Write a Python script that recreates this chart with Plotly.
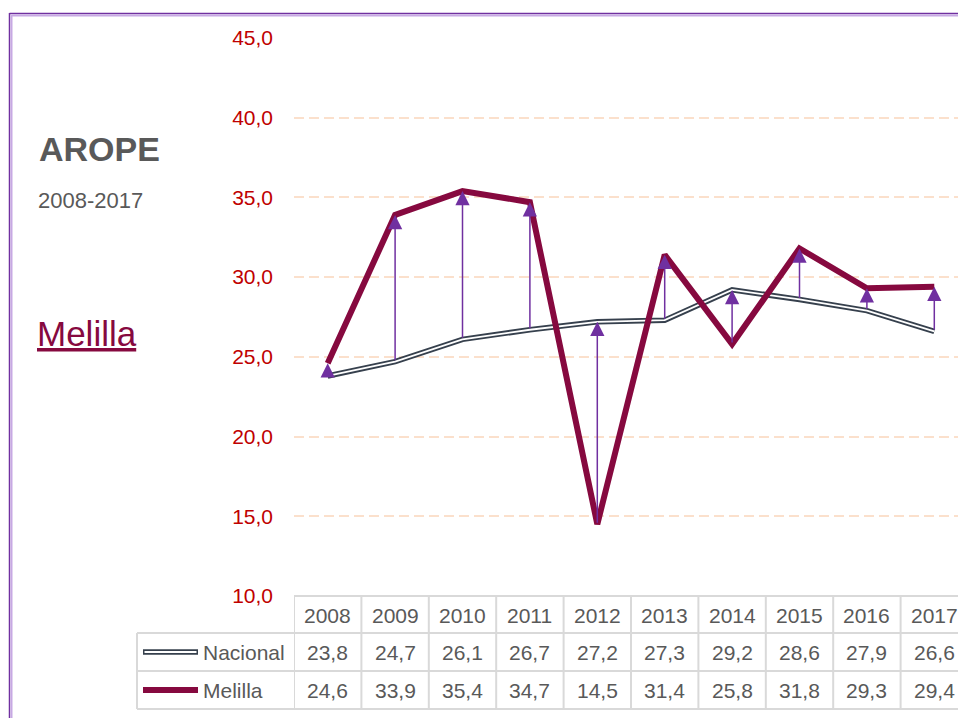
import plotly.graph_objects as go

# ---------------- data ----------------
years = [2008, 2009, 2010, 2011, 2012, 2013, 2014, 2015, 2016, 2017]
nacional = [23.8, 24.7, 26.1, 26.7, 27.2, 27.3, 29.2, 28.6, 27.9, 26.6]
melilla = [24.6, 33.9, 35.4, 34.7, 14.5, 31.4, 25.8, 31.8, 29.3, 29.4]
y_ticks = [10, 15, 20, 25, 30, 35, 40, 45]
series_names = ["Nacional", "Melilla"]
title_text = "AROPE"
subtitle_text = "2008-2017"
region_text = "Melilla"

# ---------------- layout helpers ----------------
W, H = 958, 718
def px(x):
    return x / W
def py(y):
    return 1 - y / H

X0_PX = 294
COL_W = 67.4
x_range = [years[0] - 0.5, years[0] - 0.5 + (W - X0_PX) / COL_W]

NAC_DARK = "#36404D"
MEL_COL = "#86093F"
ARROW_COL = "#7030A0"
GRID_TBL = "#D9D9D9"
TXT = "#595959"
FONT = "Liberation Sans, Arial, sans-serif"

fig = go.Figure()

# Nacional double line
fig.add_trace(go.Scatter(x=years, y=nacional, mode="lines", name=series_names[0],
                         line=dict(color=NAC_DARK, width=5.5), hoverinfo="skip"))
fig.add_trace(go.Scatter(x=years, y=nacional, mode="lines", name=series_names[0],
                         line=dict(color="white", width=1.8), hoverinfo="skip"))
# Melilla
fig.add_trace(go.Scatter(x=years, y=melilla, mode="lines", name=series_names[1],
                         line=dict(color=MEL_COL, width=6), hoverinfo="skip"))

annotations = []
shapes = []

# arrows (low -> high)
for yr, n, m in zip(years, nacional, melilla):
    lo, hi = min(n, m), max(n, m)
    annotations.append(dict(x=yr, y=hi, ax=yr, ay=lo, xref="x", yref="y",
                            axref="x", ayref="y", text="", showarrow=True,
                            arrowhead=2, arrowsize=1.9, arrowwidth=1.5,
                            arrowcolor=ARROW_COL, standoff=0, startstandoff=0))

# titles
annotations.append(dict(x=px(37), y=py(149), xref="paper", yref="paper", xanchor="left",
                        yanchor="middle", showarrow=False, text="<b>" + title_text + "</b>",
                        font=dict(family=FONT, size=34, color=TXT)))
annotations.append(dict(x=px(36), y=py(200), xref="paper", yref="paper", xanchor="left",
                        yanchor="middle", showarrow=False, text=subtitle_text,
                        font=dict(family=FONT, size=22, color=TXT)))
annotations.append(dict(x=px(35), y=py(333), xref="paper", yref="paper", xanchor="left",
                        yanchor="middle", showarrow=False, text="<u>" + region_text + "</u>",
                        font=dict(family=FONT, size=35, color=MEL_COL)))

# ---------------- data table ----------------
HDR_Y, R1_Y, R2_Y = 615, 652, 690
T_TOP, R1_TOP, R2_TOP, T_BOT = 596, 633, 671, 709
T_LEFT = 137

def fmt(v):
    return f"{v:.1f}".replace(".", ",")

cell_font = dict(family=FONT, size=21, color=TXT)
for yr, n, m in zip(years, nacional, melilla):
    for txt, yy in [(str(yr), HDR_Y), (fmt(n), R1_Y), (fmt(m), R2_Y)]:
        annotations.append(dict(x=yr, y=py(yy), xref="x", yref="paper", xanchor="center",
                                yanchor="middle", showarrow=False, text=txt, font=cell_font))

for name, yy in zip(series_names, [R1_Y, R2_Y]):
    annotations.append(dict(x=px(201), y=py(yy), xref="paper", yref="paper", xanchor="left",
                            yanchor="middle", showarrow=False, text=name, font=cell_font))

# table grid
for yy, x0 in [(T_TOP, X0_PX), (R1_TOP, T_LEFT), (R2_TOP, T_LEFT), (T_BOT, T_LEFT)]:
    shapes.append(dict(type="line", xref="paper", yref="paper", x0=px(x0), x1=1.02,
                       y0=py(yy), y1=py(yy), line=dict(color=GRID_TBL, width=2), layer="above"))
for yr in years + [years[-1] + 1]:
    shapes.append(dict(type="line", xref="x", yref="paper", x0=yr - 0.5, x1=yr - 0.5,
                       y0=py(T_TOP), y1=py(T_BOT), line=dict(color=GRID_TBL, width=2), layer="above"))
shapes.append(dict(type="line", xref="paper", yref="paper", x0=px(T_LEFT), x1=px(T_LEFT),
                   y0=py(R1_TOP), y1=py(T_BOT), line=dict(color=GRID_TBL, width=2), layer="above"))

# legend keys in table
shapes.append(dict(type="line", xref="paper", yref="paper", x0=px(143), x1=px(198),
                   y0=py(R1_Y), y1=py(R1_Y), line=dict(color=NAC_DARK, width=5.5), layer="above"))
shapes.append(dict(type="line", xref="paper", yref="paper", x0=px(144.5), x1=px(196.5),
                   y0=py(R1_Y), y1=py(R1_Y), line=dict(color="white", width=1.8), layer="above"))
shapes.append(dict(type="line", xref="paper", yref="paper", x0=px(143), x1=px(198),
                   y0=py(R2_Y), y1=py(R2_Y), line=dict(color=MEL_COL, width=6), layer="above"))

# outer frame (left + top visible)
shapes.append(dict(type="line", xref="paper", yref="paper", x0=px(9.5), x1=px(9.5),
                   y0=py(13), y1=-0.05, line=dict(color="#7030A0", width=1.5), layer="above"))
shapes.append(dict(type="line", xref="paper", yref="paper", x0=px(9.5), x1=1.05,
                   y0=py(13.5), y1=py(13.5), line=dict(color="#7030A0", width=1.5), layer="above"))
shapes.append(dict(type="line", xref="paper", yref="paper", x0=px(11.5), x1=px(11.5),
                   y0=py(15), y1=-0.05, line=dict(color="#C7A9E3", width=2), layer="above"))
shapes.append(dict(type="line", xref="paper", yref="paper", x0=px(11.5), x1=1.05,
                   y0=py(15.5), y1=py(15.5), line=dict(color="#C7A9E3", width=2), layer="above"))

fig.update_layout(
    width=W, height=H,
    margin=dict(l=0, r=0, t=0, b=0),
    paper_bgcolor="white", plot_bgcolor="white",
    showlegend=False,
    separators=", ",
    annotations=annotations,
    shapes=shapes,
    xaxis=dict(range=x_range, domain=[px(X0_PX), 1], showticklabels=False, showgrid=False,
               zeroline=False, showline=False, ticks="", automargin=False, fixedrange=True),
    yaxis=dict(range=[y_ticks[0], y_ticks[-1]], domain=[py(T_TOP), py(38)], tickvals=y_ticks,
               tickformat=".1f", tickfont=dict(family=FONT, size=21, color="#C00000"),
               showgrid=True, gridcolor="#FBE0CC", gridwidth=2, griddash="10px,5px",
               zeroline=False, showline=False, ticks="", ticklabelstandoff=20,
               automargin=False, fixedrange=True),
)

fig.write_html("out.html", config={"displayModeBar": False},
               post_script="document.body.style.margin='0';document.body.style.overflow='hidden';")
